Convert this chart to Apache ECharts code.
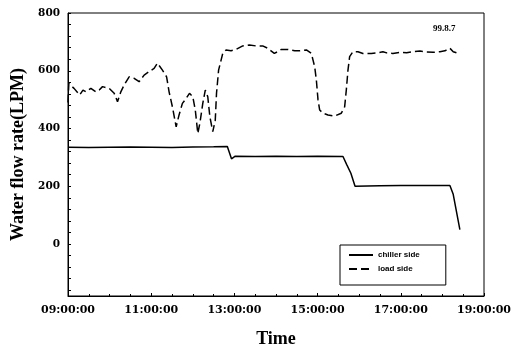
<!DOCTYPE html>
<html>
<head>
<meta charset="utf-8">
<script src="https://cdn.jsdelivr.net/npm/echarts@6/dist/echarts.min.js"></script>
<style>html,body{margin:0;padding:0;background:#fff;}#c{width:526px;height:349px;}</style>
</head>
<body>
<div id="c"></div>
<script>
// Time in hours (9.0 = 09:00:00)
const chillerTime = [9.0, 9.5, 10.0, 10.5, 11.0, 11.5, 12.0, 12.5, 12.83, 12.93, 13.02, 13.5, 14.0, 14.5, 15.0, 15.61, 15.7, 15.8, 15.9, 16.5, 17.0, 17.5, 18.18, 18.26, 18.42];
const chillerFlow = [335, 334, 335, 336, 335, 334, 336, 337, 338, 295, 304, 303, 304, 303, 304, 303, 275, 245, 200, 202, 203, 203, 203, 172, 50];

const loadTime = [9.0, 9.02, 9.065, 9.145, 9.28, 9.36, 9.43, 9.55, 9.67, 9.75, 9.83, 9.99, 10.11, 10.19, 10.27, 10.35, 10.47, 10.59, 10.71, 10.83, 10.95, 11.07, 11.15, 11.27, 11.37, 11.43, 11.51, 11.6, 11.67, 11.75, 11.84, 11.92, 12.0, 12.06, 12.12, 12.17, 12.24, 12.3, 12.36, 12.41, 12.48, 12.54, 12.57, 12.62, 12.68, 12.72, 12.8, 12.92, 13.04, 13.2, 13.36, 13.52, 13.68, 13.8, 13.88, 13.96, 14.04, 14.13, 14.28, 14.45, 14.57, 14.73, 14.85, 14.89, 14.93, 14.97, 15.01, 15.05, 15.13, 15.25, 15.41, 15.57, 15.65, 15.69, 15.73, 15.77, 15.85, 15.97, 16.09, 16.29, 16.45, 16.57, 16.66, 16.81, 16.98, 17.14, 17.3, 17.46, 17.62, 17.78, 17.94, 18.06, 18.18, 18.26, 18.34];
const loadFlow = [490, 556, 551, 539, 516, 533, 527, 539, 527, 533, 545, 539, 522, 493, 527, 551, 579, 574, 562, 585, 597, 608, 626, 602, 579, 527, 475, 406, 447, 487, 504, 522, 510, 464, 383, 418, 487, 533, 510, 441, 389, 429, 522, 602, 637, 660, 672, 669, 674, 686, 689, 686, 686, 678, 669, 660, 666, 674, 674, 669, 669, 672, 660, 637, 614, 568, 499, 464, 453, 447, 443, 453, 475, 533, 602, 649, 666, 666, 660, 660, 662, 666, 662, 660, 664, 662, 666, 668, 665, 664, 666, 669, 678, 666, 662];

const xTickLabels = ['09:00:00', '11:00:00', '13:00:00', '15:00:00', '17:00:00', '19:00:00'];
const yTickLabels = [0, 200, 400, 600, 800];
const yMinorTicks = [-160, -120, -80, -40, 0, 40, 80, 120, 160, 200, 240, 280, 320, 360, 400, 440, 480, 520, 560, 600, 640, 680, 720, 760, 800];
const seriesNames = ['chiller side', 'load side'];
const annotation = '99.8.7';

const pair = (xs, ys) => xs.map((x, i) => [x, ys[i]]);
const serif = 'DejaVu Serif';
const chart = echarts.init(document.getElementById('c'), null, {renderer: 'canvas'});
chart.setOption({
  animation: false,
  backgroundColor: '#fff',
  title: {
    text: annotation, left: 428, top: 19,
    textStyle: {fontFamily: 'Liberation Serif', fontWeight: 'bold', fontSize: 9, color: '#000'}
  },
  grid: {left: 68, right: 42, top: 13, bottom: 53, show: true, borderColor: '#000', borderWidth: 1,
         backgroundColor: 'transparent', containLabel: false, outerBoundsMode: 'none'},
  legend: {
    orient: 'vertical', left: 340, top: 245,
    itemWidth: 24, itemHeight: 8, itemGap: 6,
    padding: [6, 26, 12, 8],
    borderColor: '#000', borderWidth: 1, backgroundColor: '#fff',
    itemStyle: {opacity: 0, borderWidth: 0},
    textStyle: {fontFamily: 'Liberation Sans', fontWeight: 'bold', fontSize: 8, color: '#000'},
    data: seriesNames
  },
  xAxis: {
    type: 'value', min: 9, max: 19, interval: 2,
    name: 'Time', nameLocation: 'middle', nameGap: 34,
    nameTextStyle: {fontFamily: 'Liberation Serif', fontWeight: 'bold', fontSize: 18, color: '#000'},
    axisLine: {show: true, onZero: false, lineStyle: {color: '#000', width: 1}},
    axisTick: {show: true, inside: true, length: 3, lineStyle: {color: '#000'}},
    minorTick: {show: true, splitNumber: 4, length: 2, lineStyle: {color: '#000'}},
    splitLine: {show: false},
    axisLabel: {
      color: '#000', fontFamily: serif, fontWeight: 'bold', fontSize: 11, margin: 9,
      formatter: v => xTickLabels[Math.round((v - 9) / 2)]
    }
  },
  yAxis: {
    type: 'value', min: -180, max: 800,
    name: 'Water flow rate(LPM)', nameLocation: 'middle', nameGap: 41,
    nameTextStyle: {fontFamily: 'Liberation Serif', fontWeight: 'bold', fontSize: 18, color: '#000'},
    axisLine: {show: true, onZero: false, lineStyle: {color: '#000', width: 1}},
    axisTick: {show: true, inside: true, length: 3, customValues: yMinorTicks, lineStyle: {color: '#000'}},
    splitLine: {show: false},
    axisLabel: {
      color: '#000', fontFamily: serif, fontWeight: 'bold', fontSize: 10.5, margin: 8,
      customValues: yTickLabels
    }
  },
  series: [
    {
      name: seriesNames[0], type: 'line', data: pair(chillerTime, chillerFlow),
      symbol: 'none', color: '#000',
      lineStyle: {color: '#000', width: 1.5, type: 'solid'}
    },
    {
      name: seriesNames[1], type: 'line', data: pair(loadTime, loadFlow),
      symbol: 'none', color: '#000',
      lineStyle: {color: '#000', width: 1.5, type: [8, 4]}
    }
  ]
});
</script>
</body>
</html>
